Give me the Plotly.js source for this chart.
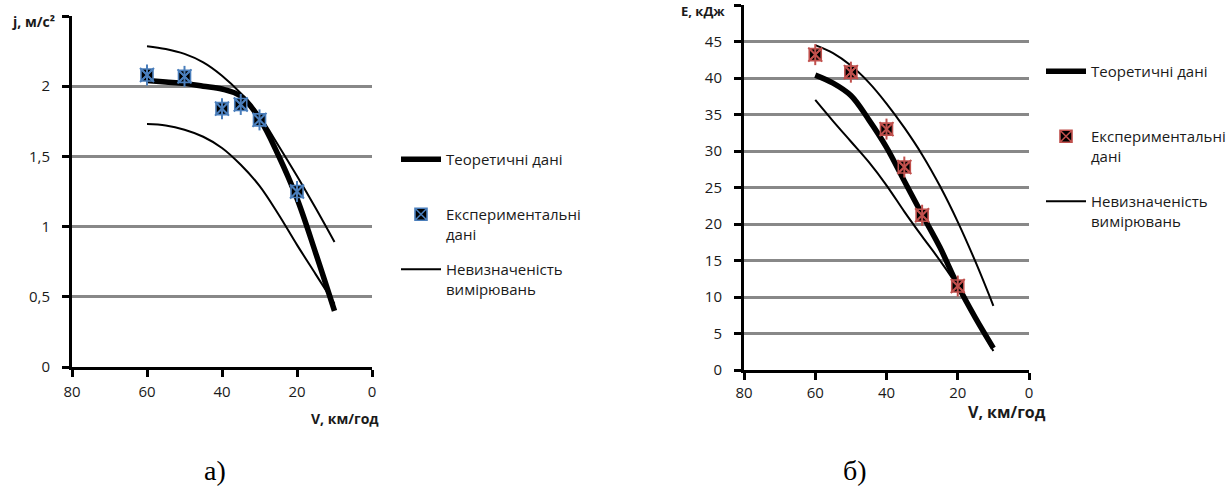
<!DOCTYPE html>
<html>
<head>
<meta charset="utf-8">
<script src="https://cdn.plot.ly/plotly-3.0.1.min.js"></script>
<style>
  html, body { margin: 0; padding: 0; background: #fff; overflow: hidden; }
  #chart { width: 1232px; height: 490px; overflow: hidden; }
</style>
</head>
<body>
<div id="chart"></div>
<script>
// Speed grid, km/h
const speed = [60, 55, 50, 45, 40, 35, 30, 25, 20, 15, 10];

// а) deceleration j, m/s^2
const jTheory = [2.04, 2.03, 2.02, 2.00, 1.98, 1.93, 1.77, 1.51, 1.20, 0.81, 0.40];
const jUpper  = [2.285, 2.265, 2.23, 2.17, 2.075, 1.95, 1.79, 1.58, 1.36, 1.13, 0.89];
const jLower  = [1.73, 1.72, 1.69, 1.64, 1.56, 1.44, 1.29, 1.09, 0.87, 0.66, 0.45];
const jExpSpeed = [60, 50, 40, 35, 30, 20];
const jExp      = [2.08, 2.07, 1.84, 1.87, 1.76, 1.25];

// б) energy E, kJ
const eTheory = [40.4, 39.3, 37.6, 34.3, 30.5, 25.9, 21.3, 16.8, 11.6, 7.1, 3.0];
const eUpper  = [44.5, 43.4, 41.7, 39.4, 36.5, 33.2, 29.5, 25.2, 20.3, 14.8, 8.8];
const eLower  = [37.0, 34.1, 31.3, 28.5, 25.3, 21.7, 18.3, 15.0, 11.4, 6.9, 2.6];
const eExpSpeed = [60, 50, 40, 35, 30, 20];
const eExp      = [43.2, 40.8, 33.0, 27.8, 21.2, 11.5];

// Axis ticks
const xTicks = [80, 60, 40, 20, 0];
const jTicks = [0, 0.5, 1, 1.5, 2, 2.5];
const jTickText = ['0', '0,5', '1', '1,5', '2', ''];
const eTicks = [0, 5, 10, 15, 20, 25, 30, 35, 40, 45, 50];
const eTickText = ['0', '5', '10', '15', '20', '25', '30', '35', '40', '45', ''];

// Legend labels (the trailing blank line keeps the first entry as tall as the others)
const nameTheory = 'Теоретичні дані<br> ';
const nameExp = 'Експериментальні<br>дані';
const nameUnc = 'Невизначеність<br>вимірювань';

const FONT = 'Open Sans, Noto Sans, sans-serif';
const BLUE = '#4a7ebb';
const RED = '#c0504d';

function panel(xa, ya, leg, y, yUp, yLo, xs, ys, starColor) {
  return [
    { x: speed, y: yUp, xaxis: xa, yaxis: ya, legend: leg, legendgroup: leg + 'c',
      legendrank: 3, type: 'scatter', mode: 'lines', name: nameUnc,
      line: { color: '#000', width: 2, shape: 'spline', smoothing: 1 } },
    { x: speed, y: yLo, xaxis: xa, yaxis: ya, legend: leg, legendgroup: leg + 'c', showlegend: false,
      type: 'scatter', mode: 'lines',
      line: { color: '#000', width: 2, shape: 'spline', smoothing: 1 } },
    { x: speed, y: y, xaxis: xa, yaxis: ya, legend: leg, legendgroup: leg + 'a',
      legendrank: 1, type: 'scatter', mode: 'lines', name: nameTheory,
      line: { color: '#000', width: 5.5, shape: 'spline', smoothing: 1 } },
    { x: xs, y: ys, xaxis: xa, yaxis: ya, legend: leg, legendgroup: leg + 'b',
      legendrank: 2, type: 'scatter', mode: 'markers', name: nameExp,
      marker: { symbol: 'square-x', size: 12, color: '#000',
                line: { color: starColor, width: 1.6 } } },
    { x: xs, y: ys, xaxis: xa, yaxis: ya, legend: leg, legendgroup: leg + 'b', showlegend: false,
      type: 'scatter', mode: 'markers', hoverinfo: 'skip',
      marker: { symbol: 'x-thin-open', size: 14, color: starColor, line: { width: 2 } } },
    { x: xs, y: ys, xaxis: xa, yaxis: ya, legend: leg, legendgroup: leg + 'b', showlegend: false,
      type: 'scatter', mode: 'markers', hoverinfo: 'skip',
      marker: { symbol: 'line-ns-open', size: 15, color: starColor, line: { width: 2 } } }
  ];
}

const data = [].concat(
  panel('x', 'y', 'legend', jTheory, jUpper, jLower, jExpSpeed, jExp, BLUE),
  panel('x2', 'y2', 'legend2', eTheory, eUpper, eLower, eExpSpeed, eExp, RED)
);

const W = 1232, H = 490;
const px = v => v / W;
const py = v => 1 - v / H;

const xAxisBase = {
  range: [80, 0], tickvals: xTicks, ticks: 'outside', ticklen: 7, tickwidth: 3,
  tickcolor: '#000', showline: true, linecolor: '#000', linewidth: 3,
  showgrid: false, zeroline: false, ticklabelstandoff: 2,
  tickfont: { family: FONT, size: 15, color: '#1a1a1a' }
};
const yAxisBase = {
  ticks: 'outside', ticklen: 7, tickwidth: 3, tickcolor: '#000',
  showline: true, linecolor: '#000', linewidth: 3,
  showgrid: true, gridcolor: '#888888', gridwidth: 3, zeroline: false,
  ticklabelstandoff: 9,
  tickfont: { family: FONT, size: 15, color: '#1a1a1a' }
};

const legendBase = {
  font: { family: FONT, size: 15, color: '#1a1a1a' },
  bgcolor: 'rgba(0,0,0,0)', traceorder: 'grouped', valign: 'top',
  xanchor: 'left', yanchor: 'top', itemwidth: 40
};

const layout = {
  width: W, height: H,
  margin: { l: 0, r: 0, t: 0, b: 0 },
  paper_bgcolor: '#fff', plot_bgcolor: '#fff',
  showlegend: true,
  xaxis: Object.assign({}, xAxisBase, { domain: [px(72), px(372)], anchor: 'y' }),
  yaxis: Object.assign({}, yAxisBase, { domain: [py(367), py(16)], anchor: 'x',
           range: [0, 2.5], tickvals: jTicks, ticktext: jTickText }),
  xaxis2: Object.assign({}, xAxisBase, { domain: [px(744), px(1029)], anchor: 'y2',
           ticklabelstandoff: 0 }),
  yaxis2: Object.assign({}, yAxisBase, { domain: [py(370), py(5)], anchor: 'x2',
           range: [0, 50], tickvals: eTicks, ticktext: eTickText }),
  legend: Object.assign({}, legendBase, { x: px(396), y: py(143), tracegroupgap: 13 }),
  legend2: Object.assign({}, legendBase, { x: px(1041), y: py(55), tracegroupgap: 23 }),
  annotations: [
    { text: '<b>j, м/с²</b>', xref: 'paper', yref: 'paper', x: px(10), y: py(22),
      xanchor: 'left', yanchor: 'middle', showarrow: false,
      font: { family: FONT, size: 14, color: '#1a1a1a' } },
    { text: '<b>V, км/год</b>', xref: 'paper', yref: 'paper', x: px(381), y: py(418),
      xanchor: 'right', yanchor: 'middle', showarrow: false,
      font: { family: FONT, size: 14, color: '#1a1a1a' } },
    { text: '<b>Е, кДж</b>', xref: 'paper', yref: 'paper', x: px(679), y: py(11),
      xanchor: 'left', yanchor: 'middle', showarrow: false,
      font: { family: FONT, size: 13, color: '#1a1a1a' } },
    { text: '<b>V, км/год</b>', xref: 'paper', yref: 'paper', x: px(1048), y: py(412),
      xanchor: 'right', yanchor: 'middle', showarrow: false,
      font: { family: FONT, size: 16, color: '#1a1a1a' } },
    { text: 'а)', xref: 'paper', yref: 'paper', x: px(215), y: py(470),
      xanchor: 'center', yanchor: 'middle', showarrow: false,
      font: { family: 'Liberation Serif, serif', size: 28, color: '#000' } },
    { text: 'б)', xref: 'paper', yref: 'paper', x: px(855), y: py(470),
      xanchor: 'center', yanchor: 'middle', showarrow: false,
      font: { family: 'Liberation Serif, serif', size: 28, color: '#000' } }
  ]
};

Plotly.newPlot('chart', data, layout, { staticPlot: true, displayModeBar: false });
</script>
</body>
</html>
